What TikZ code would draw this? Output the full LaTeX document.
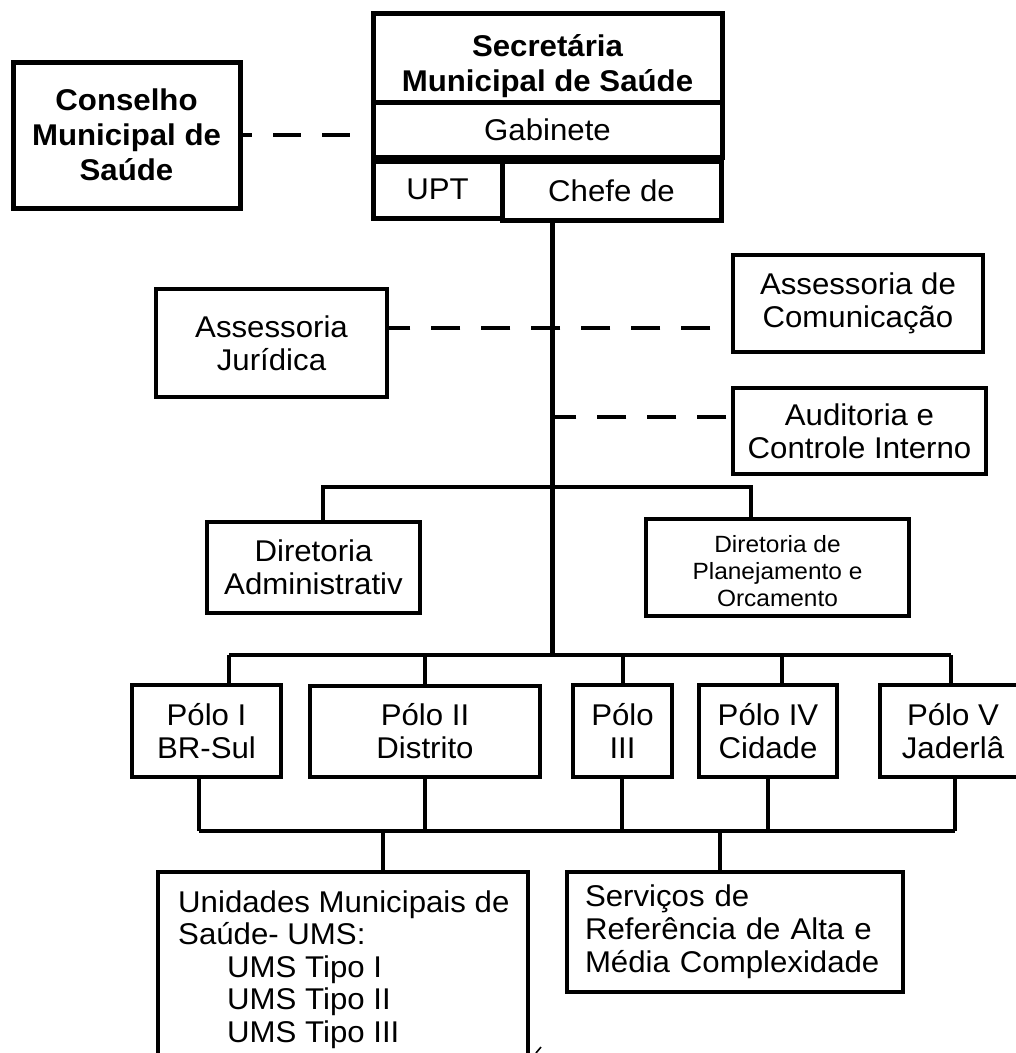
\documentclass[tikz,border=0pt]{standalone}
\usepackage{fontspec}
\setmainfont{Liberation Sans}[FakeStretch=1.04]
\tikzset{%
  unit/.style={draw,line width=3.4pt,align=center,inner sep=0,font=\fontsize{30}{33}\selectfont},
  topunit/.style={unit,line width=5pt},
  headunit/.style={topunit,font=\bfseries\fontsize{30}{35}\selectfont},
  headtext/.style={align=center,inner sep=0,font=\bfseries\fontsize{30}{35}\selectfont},
  smalltext/.style={align=center,inner sep=0,font=\fontsize{23.5}{27}\selectfont},
  plaintext/.style={align=left,inner sep=0,font=\fontsize{30}{32.5}\selectfont},
  link/.style={line width=3.4pt},
  trunk/.style={line width=5pt},
  dlink/.style={line width=4pt,dash pattern=on 29pt off 21pt}
}

\begin{document}
\begin{tikzpicture}[x=1pt,y=-1pt]
  \useasboundingbox (0,0) rectangle (1016,1053);
  \path
    (547.5,57.5) node (sec)[topunit,minimum width=349pt,minimum height=89pt]{}
    (547.5,66) node (sectitle)[headtext]{Secretária\\Municipal de Saúde}
    (547.5,129.5) node (gab)[topunit,minimum width=349pt,minimum height=55pt]{Gabinete}
    (437.5,189.5) node (upt)[topunit,minimum width=129pt,minimum height=57pt]{UPT}
    (611.5,190.5) node (chefe)[topunit,minimum width=219pt,minimum height=59pt]{Chefe de}
    (126.5,135) node (cms)[headunit,minimum width=227pt,minimum height=146pt]{Conselho\\Municipal de\\Saúde};
  \path
    (271.5,343) node (jur)[unit,minimum width=231pt,minimum height=108pt]{Assessoria\\Jurídica}
    (858,303.5) node (com)[unit,minimum width=250pt,minimum height=97pt]{Assessoria de\\Comunicação}
    (859.5,431) node (aud)[unit,minimum width=253pt,minimum height=86pt]{Auditoria e\\Controle Interno}
    (313.5,567.5) node (diradm)[unit,minimum width=213pt,minimum height=91pt]{Diretoria\\Administrativ}
    (777.5,567.5) node (dirplan)[unit,minimum width=263pt,minimum height=97pt]{};
  \begin{scope}
    \clip (648,521) rectangle (907,606);
    \path (777.5,571) node (dirplantext)[smalltext]{Diretoria de\\Planejamento e\\Orcamento};
  \end{scope}
  \path
    (206.5,731) node (polo1)[unit,minimum width=149pt,minimum height=92pt]{Pólo I\\BR-Sul}
    (425,731.5) node (polo2)[unit,minimum width=230pt,minimum height=91pt]{Pólo II\\Distrito}
    (622.5,731) node (polo3)[unit,minimum width=99pt,minimum height=92pt]{Pólo\\III}
    (768,731) node (polo4)[unit,minimum width=138pt,minimum height=92pt]{Pólo IV\\Cidade}
    (953,731) node (polo5)[unit,minimum width=146pt,minimum height=92pt]{Pólo V\\Jaderlâ};
  \path
    (343,976) node (ums)[unit,minimum width=370pt,minimum height=208pt]{}
    (178,890.5) node (umstext)[plaintext,anchor=north west]{Unidades Municipais de\\Saúde- UMS:\\
      \hspace*{49pt}UMS Tipo I\\\hspace*{49pt}UMS Tipo II\\\hspace*{49pt}UMS Tipo III}
    (735,932) node (serv)[unit,align=left,text width=300pt,inner xsep=18pt,minimum height=120pt]{Serviços de\\Referência de Alta e\\Média Complexidade};

  % tronco e ligacoes
  \coordinate (jc) at (552,328);
  \coordinate (ac) at (552,417);
  \coordinate (dl) at (323,487);
  \coordinate (dr) at (751,487);
  \coordinate (pt) at (552,655);
  \coordinate (ul) at (383,831);
  \coordinate (sr) at (720,831);
  \draw[dlink,dash pattern=on 28pt off 21pt,dash phase=28pt] (cms.east -| sec.west) -- (cms.east);
  \draw[trunk] (chefe.south -| pt) -- (pt);
  \draw[dlink,dash phase=29pt] (com.west |- jc) -- (jur.east |- jc);
  \draw[dlink,dash phase=45pt] (aud.west |- ac) -- (ac);
  \draw[link] (diradm.north -| dl) -- (dl) -- (dr) -- (dirplan.north -| dr);
  \draw[link] (229,655) -- (951,655);
  \draw[link] (199,831) -- (955,831);
  \foreach \p/\t/\b in {polo1/229/199,polo2/425/425,polo3/623/622,polo4/782/768,polo5/951/955}{
    \draw[link] (\p.north -| \t,0) -- (\t,655);
    \draw[link] (\p.south -| \b,0) -- (\b,831);
  }
  \draw[link] (ul) -- (ums.north -| ul);
  \draw[link] (sr) -- (serv.north -| sr);
  % acento solto no rodape
  \draw[line width=1.6pt] (536,1053) -- (541,1047);
\end{tikzpicture}
\end{document}
